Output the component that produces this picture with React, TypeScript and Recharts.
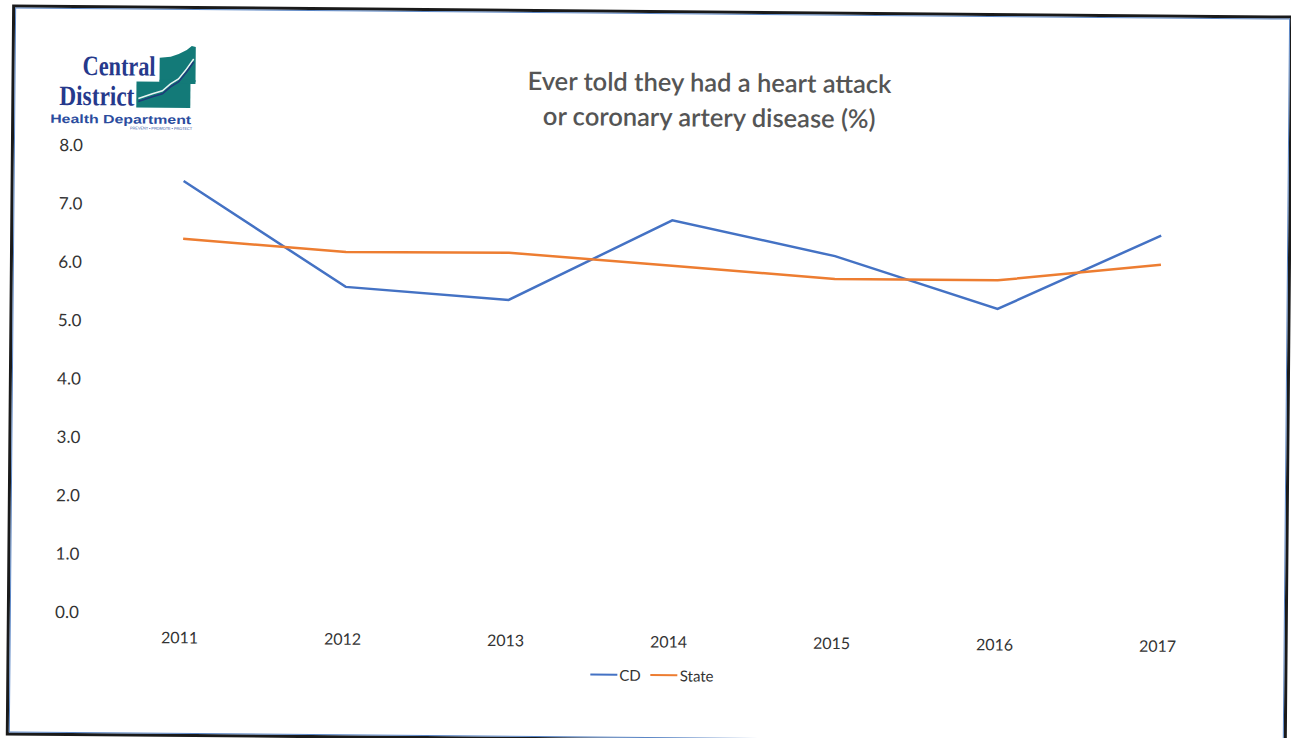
import React from 'react';
import { LineChart, Line, XAxis, YAxis } from 'recharts';

const years = ['2011', '2012', '2013', '2014', '2015', '2016', '2017'];
const cdValues = [7.4, 5.61, 5.41, 6.8, 6.21, 5.33, 6.61];
const stateValues = [6.41, 6.21, 6.22, 6.02, 5.82, 5.82, 6.11];
const yTicks = [0, 1, 2, 3, 4, 5, 6, 7, 8];
const titleLines = ['Ever told they had a heart attack', 'or coronary artery disease (%)'];
const seriesNames = ['CD', 'State'];
const seriesColors = ['#4472c4', '#ed7d31'];

const data = years.map((year, i) => ({ year, CD: cdValues[i], State: stateValues[i] }));

const FONT = 'Lato, "Open Sans", sans-serif';

function Logo() {
  return (
    <svg width={200} height={140} style={{ position: 'absolute', left: 0, top: 0 }}>
      <text x={80} y={80} fontFamily='"Liberation Serif", serif' fontWeight="bold" fontSize={28}
        textLength={73} lengthAdjust="spacingAndGlyphs" fill="#26398c">Central</text>
      <text x={57} y={110} fontFamily='"Liberation Serif", serif' fontWeight="bold" fontSize={28}
        textLength={75} lengthAdjust="spacingAndGlyphs" fill="#26398c">District</text>
      <polygon points="157,86 157,62 168,61 176,58 184,54 189,50 193,51 193,86" fill="#137a78" />
      <rect x={134} y={86} width={54} height={26} fill="#137a78" />
      <rect x={157} y={84} width={36} height={4} fill="#137a78" />
      <polyline points="136,103 150,98 160,95 168,88 176,83 184,73 191,63" fill="none" stroke="#e8f4f2" strokeWidth={1.5} />
      <polyline points="136,106 150,101 160,98 168,91 176,86 184,76 191,66" fill="none" stroke="#1e3a7a" strokeWidth={1.5} />
      <text x={48} y={128} fontFamily='"Liberation Sans", sans-serif' fontWeight="bold" fontSize={12}
        textLength={141} lengthAdjust="spacingAndGlyphs" fill="#2b4c9e">Health Department</text>
      <text x={128} y={134} fontFamily='"Liberation Sans", sans-serif' fontSize={4}
        textLength={62} lengthAdjust="spacingAndGlyphs" fill="#2b4c9e">PREVENT • PROMOTE • PROTECT</text>
    </svg>
  );
}

export default function App() {
  return (
    <div style={{ position: 'fixed', left: 0, top: 0, width: 1291, height: 738, overflow: 'hidden', background: '#fff' }}>
      <div style={{ position: 'absolute', left: 0, top: 0, width: 1291, height: 750, transform: 'rotate(0.5deg)', transformOrigin: '645px 370px' }}>
        <div style={{ position: 'absolute', left: 9, top: 10, width: 1281, height: 731, border: '3px solid #1a1a1a', boxSizing: 'border-box' }}>
          <div style={{ position: 'absolute', inset: 0, border: '1.5px solid #5b86c5' }} />
        </div>
        <Logo />
        <div style={{ position: 'absolute', left: 357, top: 64, width: 700, textAlign: 'center', fontFamily: FONT, fontSize: 25.5, fontWeight: 600, lineHeight: '35px', color: '#555555' }}>
          {titleLines.map((l) => (<div key={l}>{l}</div>))}
        </div>
        <div style={{ position: 'absolute', left: 0, top: 0 }}>
          <LineChart width={1291} height={738} data={data} margin={{ top: 150, right: 50, bottom: 91, left: 40 }}>
            <XAxis dataKey="year" axisLine={false} tickLine={false} tickMargin={13} height={30}
              padding={{ left: 81, right: 81 }} interval={0}
              tick={{ fill: '#333', fontSize: 16, fontFamily: FONT }} />
            <YAxis domain={[0, 8]} ticks={yTicks} axisLine={false} tickLine={false} width={61} tickMargin={14}
              tickFormatter={(v: number) => v.toFixed(1)}
              tick={{ fill: '#333', fontSize: 17, fontFamily: FONT }} />
            <Line dataKey="CD" stroke={seriesColors[0]} strokeWidth={2.5} dot={false} isAnimationActive={false} />
            <Line dataKey="State" stroke={seriesColors[1]} strokeWidth={2.5} dot={false} isAnimationActive={false} />
          </LineChart>
        </div>
        <div style={{ position: 'absolute', left: 593, top: 666, display: 'flex', alignItems: 'center', fontFamily: FONT, fontSize: 15, color: '#333' }}>
          {seriesNames.map((n, i) => (
            <div key={n} style={{ display: 'flex', alignItems: 'center', marginRight: 10 }}>
              <div style={{ width: 27, height: 2.5, background: seriesColors[i], marginRight: 2 }} />
              <span>{n}</span>
            </div>
          ))}
        </div>
      </div>
    </div>
  );
}
